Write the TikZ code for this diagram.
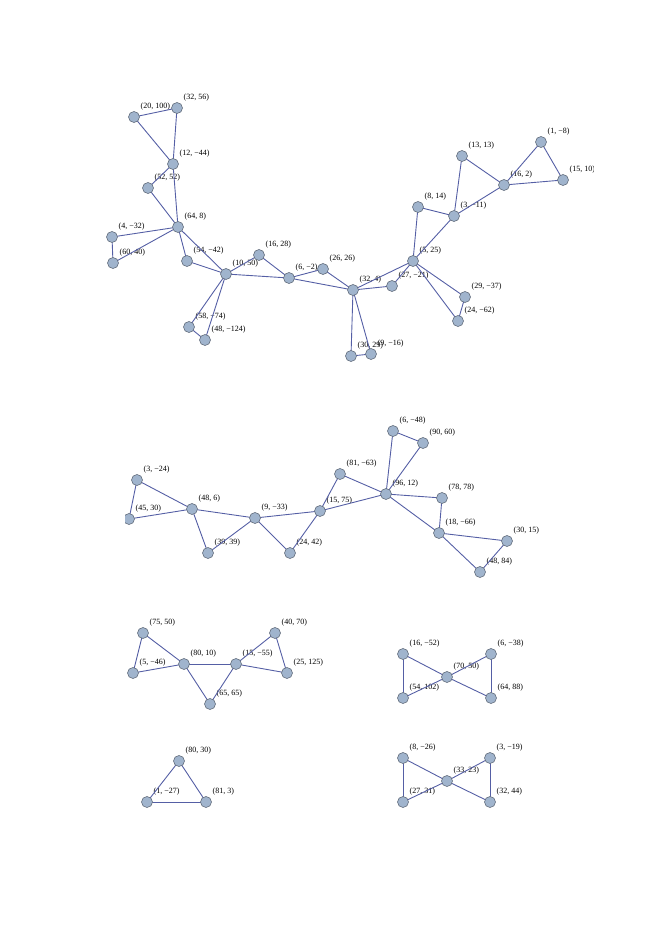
\documentclass[tikz,border=0pt]{standalone}
\usepackage{fontspec}
\setmainfont{Liberation Serif}
\usetikzlibrary{calc}
\definecolor{edgecol}{RGB}{85,95,165}
\definecolor{vfill}{RGB}{160,180,205}
\definecolor{vdraw}{RGB}{100,110,125}
\tikzset{
  vtx/.style={circle,minimum size=11pt,inner sep=0pt,fill=vfill,draw=vdraw,line width=0.6pt},
  lbl/.style={anchor=west,inner sep=0pt,font=\fontsize{8}{9}\selectfont},
  edg/.style={draw=edgecol,line width=0.9pt}
}
\begin{document}
\begin{tikzpicture}[x=1pt,y=-1pt]
\useasboundingbox (0,0) rectangle (665,940);
% ---------------- top graph ----------------
\begin{scope}
\clip (90,80) rectangle (593,372);
\foreach \n/\p/\t in {
 A/{134,117}/{(20, 100)}, B/{177,108}/{(32, 56)}, C/{173,164}/{(12, −44)},
 D/{148,188}/{(52, 52)}, E/{178,227}/{(64, 8)}, F/{112,237}/{(4, −32)},
 G/{113,263}/{(60, 40)}, H/{187,261}/{(54, −42)}, I/{226,274}/{(10, 50)},
 J/{259,255}/{(16, 28)}, K/{289,278}/{(6, −2)}, L/{323,269}/{(26, 26)},
 M/{353,290}/{(32, 4)}, N/{392,286}/{(27, −21)}, O/{413,261}/{(5, 25)},
 P/{418,207}/{(8, 14)}, Q/{454,216}/{(3, −11)}, R/{462,156}/{(13, 13)},
 S/{504,185}/{(16, 2)}, T/{541,142}/{(1, −8)}, U/{563,180}/{(15, 10)},
 V/{465,297}/{(29, −37)}, W/{458,321}/{(24, −62)}, X/{189,327}/{(58, −74)},
 Y/{205,340}/{(48, −124)}, Z/{351,356}/{(30, 29)}, ZZ/{371,354}/{(9, −16)}}
 {\coordinate (\n) at (\p);
  \node[lbl] (lab\n) at ($(\n)+(6.5,-10)$) {\t};}
\foreach \a/\b in {A/B,A/C,B/C,C/D,C/E,D/E,E/F,E/G,F/G,E/H,E/I,H/I,I/J,I/K,J/K,
  I/X,I/Y,X/Y,K/L,K/M,L/M,M/N,M/O,N/O,M/Z,M/ZZ,Z/ZZ,O/P,O/Q,P/Q,Q/R,Q/S,R/S,
  S/T,S/U,T/U,O/V,O/W,V/W}
 \draw[edg] (\a) -- (\b);
\foreach \n in {A,B,C,D,E,F,G,H,I,J,K,L,M,N,O,P,Q,R,S,T,U,V,W,X,Y,Z,ZZ}
 \node[vtx] (v\n) at (\n) {};
\end{scope}
% ---------------- middle graph ----------------
\begin{scope}
\clip (125,405) rectangle (543,585);
\foreach \n/\p/\t in {
 ma/{137,480}/{(3, −24)}, mb/{129,519}/{(45, 30)}, mc/{192,509}/{(48, 6)},
 md/{255,518}/{(9, −33)}, me/{208,553}/{(39, 39)}, mf/{290,553}/{(24, 42)},
 mg/{320,511}/{(15, 75)}, mh/{393,431}/{(6, −48)}, mi/{423,443}/{(90, 60)},
 mj/{340,474}/{(81, −63)}, mk/{386,494}/{(96, 12)}, ml/{442,498}/{(78, 78)},
 mm/{439,533}/{(18, −66)}, mn/{507,541}/{(30, 15)}, mo/{480,572}/{(48, 84)}}
 {\coordinate (\n) at (\p);
  \node[lbl] (lab\n) at ($(\n)+(6.5,-10)$) {\t};}
\foreach \a/\b in {ma/mb,ma/mc,mb/mc,mc/md,mc/me,md/me,md/mf,md/mg,mf/mg,mg/mj,
  mg/mk,mj/mk,mk/mh,mk/mi,mh/mi,mk/ml,mk/mm,ml/mm,mm/mn,mm/mo,mn/mo}
 \draw[edg] (\a) -- (\b);
\foreach \n in {ma,mb,mc,md,me,mf,mg,mh,mi,mj,mk,ml,mm,mn,mo}
 \node[vtx] (v\n) at (\n) {};
\end{scope}
% ---------------- bottom graphs ----------------
\foreach \n/\p/\t in {
 p/{143,633}/{(75, 50)}, q/{133,673}/{(5, −46)}, r/{184,664}/{(80, 10)},
 s/{210,704}/{(65, 65)}, t/{236,664}/{(15, −55)}, u/{275,633}/{(40, 70)},
 v/{287,673}/{(25, 125)},
 w/{403,654}/{(16, −52)}, x/{403,698}/{(54, 102)}, yy/{447,677}/{(70, 50)},
 z/{491,654}/{(6, −38)}, aa/{491,698}/{(64, 88)},
 bb/{179,761}/{(80, 30)}, cc/{147,802}/{(1, −27)}, dd/{206,802}/{(81, 3)},
 ee/{403,758}/{(8, −26)}, ff/{403,802}/{(27, 31)}, gg/{447,781}/{(33, 23)},
 hh/{490,758}/{(3, −19)}, ii/{490,802}/{(32, 44)}}
 {\coordinate (\n) at (\p);
  \node[lbl] (lab\n) at ($(\n)+(6.5,-10)$) {\t};}
\foreach \a/\b in {p/q,p/r,q/r,r/s,r/t,s/t,t/u,t/v,u/v,
  w/x,w/yy,x/yy,yy/z,yy/aa,z/aa,
  bb/cc,bb/dd,cc/dd,
  ee/ff,ee/gg,ff/gg,gg/hh,gg/ii,hh/ii}
 \draw[edg] (\a) -- (\b);
\foreach \n in {p,q,r,s,t,u,v,w,x,yy,z,aa,bb,cc,dd,ee,ff,gg,hh,ii}
 \node[vtx] (v\n) at (\n) {};
\end{tikzpicture}
\end{document}
